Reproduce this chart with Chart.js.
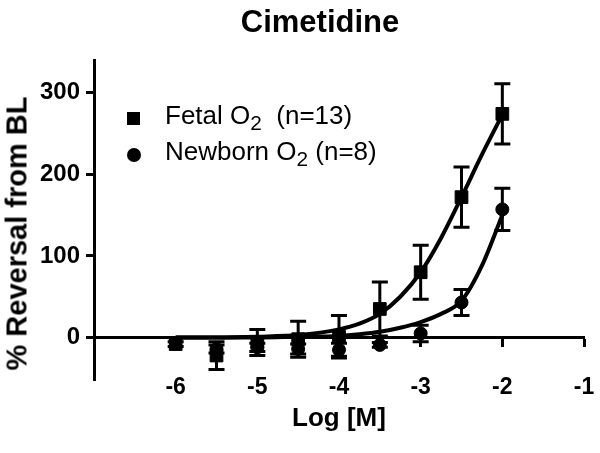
<!DOCTYPE html>
<html>
<head>
<meta charset="utf-8">
<script src="https://cdn.jsdelivr.net/npm/chart.js@4.4.1/dist/chart.umd.min.js"></script>
<style>
  body { margin: 0; background: #fff; }
  #wrap { position: relative; width: 600px; height: 453px; font-family: "Liberation Sans", Arial, sans-serif; color: #000; }
  #chart { position: absolute; left: 0; top: 0; }
  .title { position: absolute; left: 170px; top: 6px; width: 300px; text-align: center; font-weight: bold; font-size: 31px; line-height: 31px; }
  .ytitle { position: absolute; left: -133px; top: 219px; width: 300px; height: 29px; line-height: 29px; text-align: center; font-weight: bold; font-size: 29px; transform: rotate(-90deg); white-space: nowrap; }
  .leg { position: absolute; left: 165px; font-size: 26px; line-height: 26px; white-space: pre; }
  .leg sub { font-size: 0.8em; line-height: 0; vertical-align: -0.28em; }
  .mark { position: absolute; background: #000; }
</style>
</head>
<body>
<div id="wrap">
  <canvas id="chart" width="600" height="453"></canvas>
  <div class="title">Cimetidine</div>
  <div class="ytitle">% Reversal from BL</div>
  <div class="mark" style="left:127px;top:112px;width:13px;height:13px"></div>
  <div class="leg" style="top:102px">Fetal O<sub>2</sub>  (n=13)</div>
  <div class="mark" style="left:127px;top:148px;width:14px;height:14px;border-radius:50%"></div>
  <div class="leg" style="top:138px">Newborn O<sub>2</sub> (n=8)</div>
</div>
<script>
// Doses (log M) and responses
const fetalDoses = [-6, -5.5, -5, -4.5, -4, -3.5, -3, -2.5, -2];
const fetalMean = [-8, -22, -6, -2, 1, 35, 80, 172, 274];
const fetalSem = [3, 17, 16, 22, 26, 33, 33, 37, 37];

const newbornDoses = [-5.5, -5, -4.5, -4, -3.5, -3, -2.5, -2];
const newbornMean = [-14, -12, -14, -15, -9, 5, 43, 157];
const newbornSem = [5, 5, 6, 8, 3, 10, 16, 26];

// fitted curves
const curveX = [-6, -5.5, -5, -4.5, -4, -3.75, -3.5, -3.25, -3, -2.75, -2.5, -2.25, -2];
const fetalCurve = [0, 0, 1, 3, 10, 17, 29, 50, 80, 122, 172, 224, 273];
const newbornCurve = [0, 0, 0, 1, 2, 4, 7, 12, 19, 29, 45, 88, 150];

const yTicks = [0, 100, 200, 300];
const yMin = -52;

const pts = (xs, ys) => xs.map((x, i) => ({ x: x, y: ys[i] }));

// barras de erro (SEM) desenhadas com as escalas do grafico
const errorBars = {
  id: "errorBars",
  afterDatasetsDraw(chart) {
    const { ctx } = chart;
    const xs = chart.scales.x;
    const ys = chart.scales.y;
    ctx.save();
    ctx.strokeStyle = "#000";
    ctx.lineWidth = 3;
    chart.data.datasets.forEach((ds) => {
      if (!ds.errors) return;
      ds.data.forEach((p, j) => {
        const e = ds.errors[j];
        if (!e) return;
        const px = xs.getPixelForValue(p.x);
        const top = ys.getPixelForValue(p.y + e);
        const bot = ys.getPixelForValue(p.y - e);
        ctx.beginPath();
        ctx.moveTo(px, top);
        ctx.lineTo(px, bot);
        ctx.moveTo(px - 8, top);
        ctx.lineTo(px + 8, top);
        ctx.moveTo(px - 8, bot);
        ctx.lineTo(px + 8, bot);
        ctx.stroke();
      });
    });
    ctx.restore();
  },
};

Chart.defaults.font.family = '"Liberation Sans", Arial, sans-serif';
Chart.defaults.color = "#000";

const ctx = document.getElementById("chart").getContext("2d");

new Chart(ctx, {
  type: "scatter",
  data: {
    datasets: [
      {
        label: "Fetal O2 (n=13)",
        data: pts(fetalDoses, fetalMean),
        errors: fetalSem,
        pointStyle: "rect",
        pointRadius: 9,
        backgroundColor: "#000",
        borderColor: "#000",
        borderWidth: 1,
      },
      {
        label: "Newborn O2 (n=8)",
        data: pts(newbornDoses, newbornMean),
        errors: newbornSem,
        pointStyle: "circle",
        pointRadius: 6.5,
        backgroundColor: "#000",
        borderColor: "#000",
        borderWidth: 1,
      },
      {
        type: "line",
        label: "fetal fit",
        data: pts(curveX, fetalCurve),
        borderColor: "#000",
        borderWidth: 4,
        pointRadius: 0,
        cubicInterpolationMode: "monotone",
        fill: false,
      },
      {
        type: "line",
        label: "newborn fit",
        data: pts(curveX, newbornCurve),
        borderColor: "#000",
        borderWidth: 4,
        pointRadius: 0,
        cubicInterpolationMode: "monotone",
        fill: false,
      },
    ],
  },
  options: {
    responsive: false,
    animation: false,
    layout: { padding: { top: 60, right: 16, left: 0, bottom: 0 } },
    plugins: {
      legend: { display: false },
      title: { display: false },
      tooltip: { enabled: false },
    },
    scales: {
      // eixo X desenhado na linha do zero
      x: {
        type: "linear",
        position: { y: 0 },
        min: -7,
        max: -1,
        ticks: { stepSize: 1, display: false },
        grid: { drawOnChartArea: false, drawTicks: true, tickLength: 8, tickWidth: 3, tickColor: "#000" },
        border: { display: true, color: "#000", width: 3 },
      },
      // rotulos do eixo X, presos ao fundo do eixo Y (sem recorte)
      xl: {
        type: "linear",
        position: { y: yMin },
        min: -7,
        max: -1,
        ticks: {
          stepSize: 1,
          padding: -14,
          font: { size: 23, weight: "bold" },
          callback: (v) => (v === -7 ? "" : v),
        },
        grid: { display: false },
        border: { display: false },
      },
      // so o titulo do eixo X
      xb: {
        type: "linear",
        position: "bottom",
        min: -7,
        max: -1,
        ticks: { display: false },
        grid: { display: false },
        border: { display: false },
        title: {
          display: true,
          text: "Log [M]",
          font: { size: 26, weight: "bold" },
          padding: { top: 0, bottom: 19 },
        },
        afterFit: (s) => { s.height = 73; },
      },
      y: {
        type: "linear",
        min: yMin,
        max: 340,
        afterBuildTicks: (s) => { s.ticks = yTicks.map((v) => ({ value: v })); },
        ticks: { padding: 6, font: { size: 24, weight: "bold" } },
        grid: { drawOnChartArea: false, drawTicks: true, tickLength: 8, tickWidth: 3, tickColor: "#000" },
        border: { display: true, color: "#000", width: 3 },
        afterFit: (s) => { s.width = 94; },
      },
    },
  },
  plugins: [errorBars],
});
</script>
</body>
</html>
